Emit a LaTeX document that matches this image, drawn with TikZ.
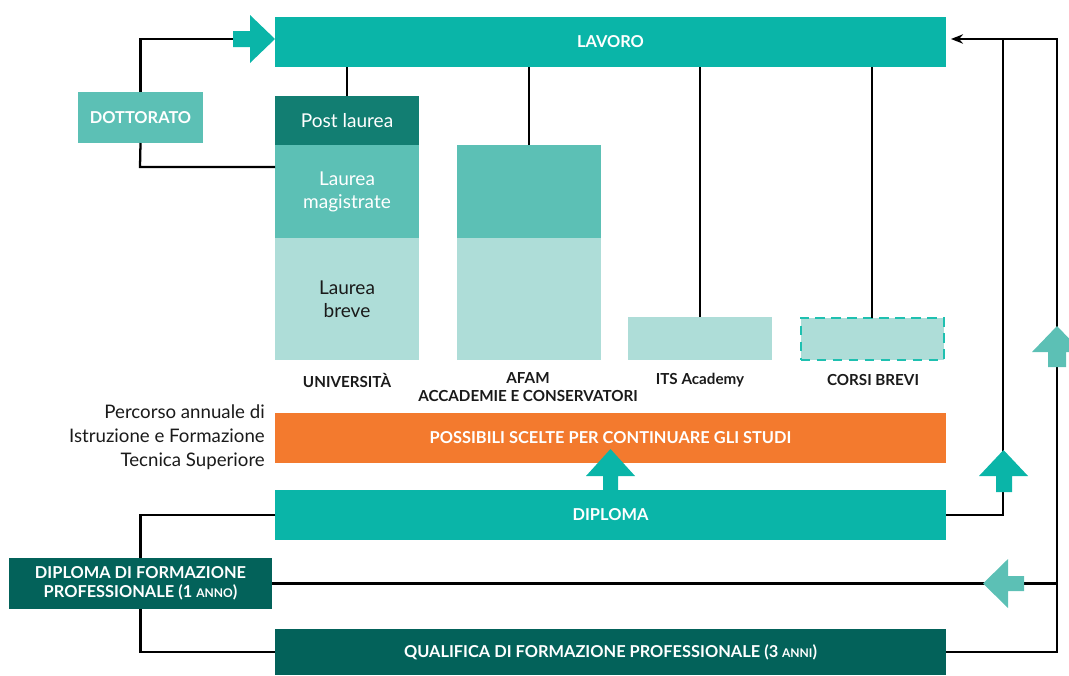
\documentclass[tikz,border=0pt]{standalone}
\usepackage{fontspec}
\setmainfont{Lato}
\usetikzlibrary{arrows.meta}
\newdimen\pxu \pxu=0.75pt
\definecolor{tealA}{HTML}{0AB5A8}
\definecolor{tealB}{HTML}{5CC0B5}
\definecolor{tealC}{HTML}{AEDDD8}
\definecolor{tealD}{HTML}{127E72}
\definecolor{tealE}{HTML}{03625A}
\definecolor{orangeA}{HTML}{F37A2E}
\definecolor{dashC}{HTML}{1FC0B0}
\definecolor{labelC}{HTML}{1A1A1A}
\tikzset{
  box/.style={inner sep=0pt, outer sep=0pt, align=center, text=white},
  capsfont/.style={font=\fontsize{12.3}{14.5}\selectfont\bfseries},
  lowfont/.style={font=\fontsize{14.3}{17.3}\selectfont},
  conn/.style={draw=black, line width=1.7pt},
  lbl/.style={text=labelC, font=\fontsize{11.4}{13.5}\selectfont\bfseries, align=center, inner sep=0pt},
}
\begin{document}
\begin{tikzpicture}[x=0.75pt,y=-0.75pt]
\useasboundingbox (0,0) rectangle (1069,675);
\clip (0,0) rectangle (1069,675);
% boxes
\node[box, capsfont, fill=tealA, minimum width=671\pxu, minimum height=50\pxu] (lavoro) at (610.5,42) {LAVORO};
\node[box, capsfont, fill=tealB, minimum width=125\pxu, minimum height=51\pxu] (dott) at (140.5,117.5) {DOTTORATO};
\node[box, lowfont, fill=tealD, minimum width=144\pxu, minimum height=49\pxu] (post) at (347,120.5) {Post laurea};
\node[box, lowfont, fill=tealB, minimum width=144\pxu, minimum height=93\pxu] (mag) at (347,191.5) {Laurea\\magistrate};
\node[box, lowfont, fill=tealC, text=labelC, minimum width=144\pxu, minimum height=122\pxu] (brev) at (347,299) {Laurea\\breve};
\node[box, fill=tealB, minimum width=144\pxu, minimum height=93\pxu] (afamA) at (529,191.5) {};
\node[box, fill=tealC, minimum width=144\pxu, minimum height=122\pxu] (afamB) at (529,299) {};
\node[box, fill=tealC, minimum width=144\pxu, minimum height=43\pxu] (its) at (700,338.5) {};
\node[box, fill=tealC, draw=dashC, line width=1.5pt, dash pattern=on 7pt off 5pt, minimum width=143\pxu, minimum height=42\pxu] (corsi) at (872,338.5) {};
\node[box, capsfont, fill=orangeA, minimum width=671\pxu, minimum height=50\pxu] (scelte) at (610.5,438) {POSSIBILI SCELTE PER CONTINUARE GLI STUDI};
\node[box, capsfont, fill=tealA, minimum width=671\pxu, minimum height=50\pxu] (diploma) at (610.5,515) {DIPLOMA};
\node[box, capsfont, fill=tealE, minimum width=263\pxu, minimum height=51\pxu] (dfp) at (140.5,583.5) {DIPLOMA DI FORMAZIONE\\PROFESSIONALE (1 {\fontsize{9}{10}\selectfont ANNO})};
\node[box, capsfont, fill=tealE, minimum width=671\pxu, minimum height=46\pxu] (qual) at (610.5,652) {QUALIFICA DI FORMAZIONE PROFESSIONALE (3 {\fontsize{9}{10}\selectfont ANNI})};
% labels
\node[lbl] (lunivers) at (347,380) {UNIVERSIT\`A};
\node[lbl] (lafam) at (528,387) {AFAM\\ACCADEMIE E CONSERVATORI};
\node[lbl] (lits) at (700,380) {ITS Academy};
\node[lbl] (lcorsi) at (873,380) {CORSI BREVI};
\node[text=labelC, font=\fontsize{14}{18}\selectfont, align=right, anchor=east, inner sep=0pt] (perc) at (265,437) {Percorso annuale di\\Istruzione e Formazione\\Tecnica Superiore};
% coordinates
\coordinate (arrL) at (233,39);
\coordinate (dottB) at (140,167);
\coordinate (topR) at (1057,39);
\coordinate (topJ) at (1003,39);
\coordinate (lavR) at (951,39);
% connectors
\draw[conn] (dott.north) |- (arrL);
\draw[conn] (dott.south) -- (dottB) -- (dottB -| mag.west);
\draw[conn] (post.north) -- (post.north |- lavoro.south);
\draw[conn] (afamA.north) -- (afamA.north |- lavoro.south);
\draw[conn] (its.north) -- (its.north |- lavoro.south);
\draw[conn] (corsi.north) -- (corsi.north |- lavoro.south);
\draw[conn] (diploma.east) -| (topJ);
\draw[conn] (qual.east) -| (topR) -- (topJ);
\draw[conn, -{Stealth[length=9pt,width=7pt]}] (topJ) -- (lavR);
\draw[conn] (dfp.east) -- (dfp.east -| topR);
\draw[conn] (diploma.west) -| (dfp.north);
\draw[conn] (dfp.south) |- (qual.west);
% block arrows
\fill[tealA] (233,31) -- (250,31) -- (250,15) -- (275,39) -- (250,63) -- (250,47) -- (233,47) -- cycle;
\fill[tealA] (603,490) -- (603,476) -- (586,476) -- (610.5,449) -- (635,476) -- (618,476) -- (618,490) -- cycle;
\fill[tealA] (996,492) -- (996,476) -- (979,476) -- (1003.5,450) -- (1028,476) -- (1012,476) -- (1012,492) -- cycle;
\fill[tealB] (1048,367) -- (1048,352) -- (1032,352) -- (1057,326) -- (1082,352) -- (1066,352) -- (1066,367) -- cycle;
\fill[tealB] (1024,576) -- (1008,576) -- (1008,559) -- (983,583.5) -- (1008,608) -- (1008,591) -- (1024,591) -- cycle;
\end{tikzpicture}
\end{document}
